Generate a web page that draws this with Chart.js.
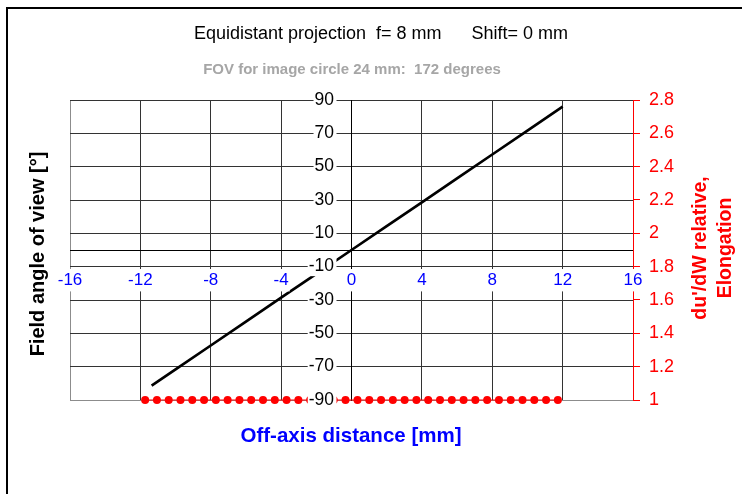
<!DOCTYPE html>
<html lang="en">
<head>
<meta charset="UTF-8">
<title>Equidistant projection</title>
<script src="https://cdn.jsdelivr.net/npm/chart.js"></script>
<style>
  body { margin: 0; background: #fff; }
  #wrap { width: 742px; height: 494px; }
</style>
</head>
<body>
<div id="wrap"><canvas id="myChart" width="742" height="494"></canvas></div>
<script>
    // Field angle curve (mm -> degrees)
    const angleX = [-11.36, -10, -8, -6, -4, -2, 0, 2, 4, 6, 8, 10, 12];
    const angleY = [-81.4, -71.6, -57.3, -43.0, -28.6, -14.3, 0, 14.3, 28.6, 43.0, 57.3, 71.6, 86.0];

    // Elongation samples (all at 1)
    const elongX = [-11.73, -11.06, -10.39, -9.72, -9.05, -8.38, -7.71, -7.04, -6.37, -5.70, -5.03, -4.36,
                    -3.69, -3.02, -2.35, -1.68, -1.01, -0.34, 0.34, 1.01, 1.68, 2.35, 3.02, 3.69,
                    4.36, 5.03, 5.70, 6.37, 7.04, 7.71, 8.38, 9.05, 9.72, 10.39, 11.06, 11.73];
    const elongY = [1, 1, 1, 1, 1, 1, 1, 1, 1, 1, 1, 1,
                    1, 1, 1, 1, 1, 1, 1, 1, 1, 1, 1, 1,
                    1, 1, 1, 1, 1, 1, 1, 1, 1, 1, 1, 1];

    // Tick labels
    const xTicks = [-16, -12, -8, -4, 0, 4, 8, 12, 16];
    const yTicks = [-90, -70, -50, -30, -10, 10, 30, 50, 70, 90];
    const y2Ticks = [1, 1.2, 1.4, 1.6, 1.8, 2, 2.2, 2.4, 2.6, 2.8];

    const chartTitle = 'Equidistant projection  f= 8 mm      Shift= 0 mm';
    const subTitle = 'FOV for image circle 24 mm:  172 degrees';
    const xTitle = 'Off-axis distance [mm]';
    const yTitle = 'Field angle of view [°]';
    const y2Title = ["du'/dW relative,", 'Elongation'];

    const FONT = 'Arial, "Liberation Sans", sans-serif';
    const gridDark = '#333333';
    const gridEdge = '#8c8c8c';

    // frame + titles (drawn by hand, Chart.js puts right titles the other way round)
    const decor = {
        id: 'decor',
        beforeDraw(chart) {
            const ctx = chart.ctx;
            ctx.save();
            ctx.fillStyle = '#fff';
            ctx.fillRect(0, 0, chart.width, chart.height);
            ctx.strokeStyle = '#000';
            ctx.lineWidth = 2;
            ctx.strokeRect(7, 8, 800, 600);
            ctx.restore();
        },
        afterDraw(chart) {
            const ctx = chart.ctx;
            ctx.save();
            ctx.textAlign = 'center';
            ctx.textBaseline = 'middle';

            ctx.fillStyle = '#000';
            ctx.font = '18px ' + FONT;
            ctx.fillText(chartTitle, 381, 34);

            ctx.fillStyle = '#a6a6a6';
            ctx.font = 'bold 15px ' + FONT;
            ctx.fillText(subTitle, 352, 70);

            ctx.fillStyle = '#0000ff';
            ctx.font = 'bold 20.5px ' + FONT;
            ctx.fillText(xTitle, 351, 436);

            ctx.fillStyle = '#000';
            ctx.font = 'bold 20px ' + FONT;
            ctx.translate(38, 254);
            ctx.rotate(-Math.PI / 2);
            ctx.fillText(yTitle, 0, 0);
            ctx.restore();

            ctx.save();
            ctx.textAlign = 'center';
            ctx.textBaseline = 'middle';
            ctx.fillStyle = '#ff0000';
            ctx.font = 'bold 19.5px ' + FONT;
            ctx.translate(701, 248);
            ctx.rotate(-Math.PI / 2);
            ctx.fillText(y2Title[0], 0, 0);
            ctx.fillText(y2Title[1], 0, 25);
            ctx.restore();
        }
    };

    const ctx = document.getElementById('myChart').getContext('2d');
    window.myChart = new Chart(ctx, {
        type: 'scatter',
        data: {
            datasets: [
                {
                    label: 'Field angle',
                    data: angleX.map((x, i) => ({x: x, y: angleY[i]})),
                    showLine: true,
                    borderColor: '#000',
                    borderWidth: 2.7,
                    pointRadius: 0,
                    xAxisID: 'x',
                    yAxisID: 'y',
                    clip: false
                },
                {
                    label: 'Elongation',
                    data: elongX.map((x, i) => ({x: x, y: elongY[i]})),
                    showLine: true,
                    borderColor: '#ff0000',
                    backgroundColor: '#ff0000',
                    borderWidth: 1,
                    pointRadius: 4,
                    pointBorderWidth: 0,
                    xAxisID: 'x',
                    yAxisID: 'y2',
                    clip: false
                }
            ]
        },
        options: {
            responsive: false,
            animation: false,
            layout: { padding: { left: 70, top: 100, right: 49, bottom: 94 } },
            plugins: {
                legend: { display: false },
                tooltip: { enabled: false }
            },
            scales: {
                x: {
                    type: 'linear',
                    min: -16,
                    max: 16,
                    position: { y: 0 },
                    afterBuildTicks: s => { s.ticks = xTicks.map(v => ({value: v})); },
                    ticks: {
                        color: '#0000ff',
                        font: { family: FONT, size: 17 },
                        padding: 20,
                        maxRotation: 0,
                        autoSkip: false,
                        showLabelBackdrop: true,
                        backdropColor: '#fff',
                        backdropPadding: { left: 1, right: 1, top: 1, bottom: 1 },
                        z: 1
                    },
                    grid: {
                        color: c => (c.tick && c.tick.value === -16) ? gridEdge : gridDark,
                        drawTicks: false
                    },
                    border: { color: '#000', width: 1 }
                },
                y: {
                    type: 'linear',
                    min: -90,
                    max: 90,
                    position: { x: 0 },
                    afterBuildTicks: s => { s.ticks = yTicks.map(v => ({value: v})); },
                    ticks: {
                        color: '#000',
                        font: { family: FONT, size: 17.5 },
                        callback: v => v + '\u2002\u2002',
                        showLabelBackdrop: true,
                        backdropColor: '#fff',
                        backdropPadding: { left: 1, right: -15, top: -1, bottom: -1 },
                        z: 1
                    },
                    grid: {
                        color: c => (c.tick && c.tick.value === -90) ? gridEdge : gridDark,
                        drawTicks: false
                    },
                    border: { color: '#000', width: 1 }
                },
                y2: {
                    type: 'linear',
                    position: 'right',
                    min: 1,
                    max: 2.8,
                    afterBuildTicks: s => { s.ticks = y2Ticks.map(v => ({value: v})); },
                    afterFit: s => { s.width = 60; },
                    ticks: {
                        color: '#ff0000',
                        font: { family: FONT, size: 18 },
                        padding: 9,
                        callback: v => String(Math.round(v * 10) / 10)
                    },
                    grid: {
                        drawOnChartArea: false,
                        tickColor: '#ff0000',
                        tickLength: 7
                    },
                    border: { color: '#ff0000', width: 1 }
                }
            }
        },
        plugins: [decor]
    });
</script>
</body>
</html>
